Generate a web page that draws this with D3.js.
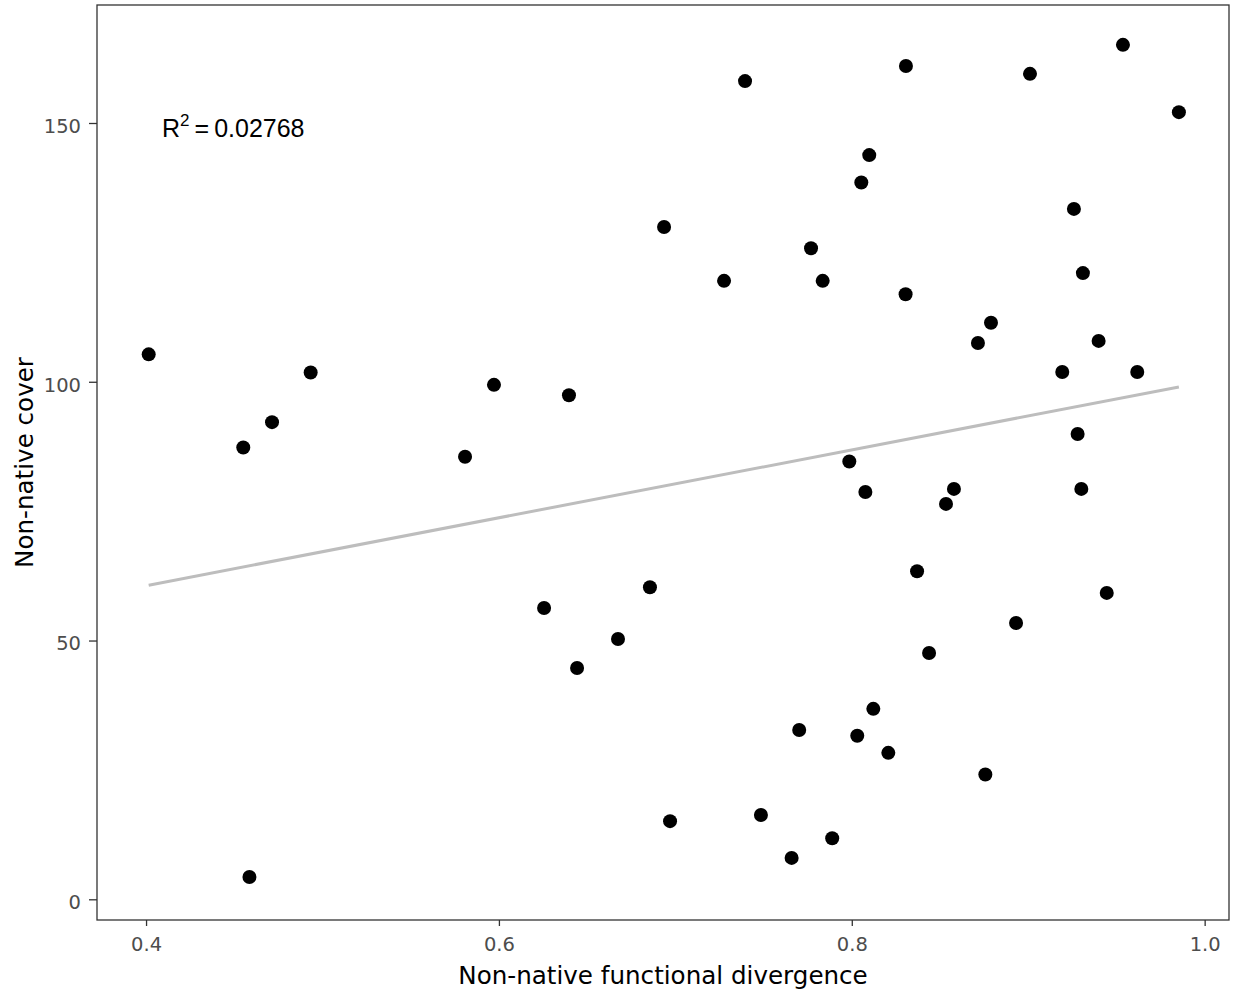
<html>
    <head>
        <style>
/*page and chart styling*/
            body{
                margin:0;
                background:#ffffff;
            }
            .tick text{
                font-family: "DejaVu Sans", sans-serif;
                font-size: 19.5px;
                fill:#4d4d4d;
            }
            .tick line{
                stroke:#333333;
                stroke-width:1.3;
            }
            .axis-title{
                font-family: "DejaVu Sans", sans-serif;
                font-size: 24.6px;
                fill:#000000;
            }
            .r2{
                font-family: "Liberation Sans Narrow", "Liberation Sans", sans-serif;
                font-size: 25px;
                fill:#000000;
            }
        </style>
    </head>
<body>
    <script src="https://cdn.jsdelivr.net/npm/d3@7"></script>
    <script>
//points: functional divergence (x) and cover (y)
      var divergence = [0.4015, 0.4551, 0.4586, 0.4714, 0.4933, 0.5808, 0.5972, 0.6256, 0.6397, 0.6443,
                        0.6675, 0.6856, 0.6936, 0.6970, 0.7276, 0.7395, 0.7485, 0.7659, 0.7702, 0.7769,
                        0.7835, 0.7889, 0.7986, 0.8031, 0.8054, 0.8077, 0.8099, 0.8122, 0.8207, 0.8307,
                        0.8305, 0.8370, 0.8438, 0.8534, 0.8579, 0.8715, 0.8757, 0.8789, 0.8931, 0.9010,
                        0.9193, 0.9259, 0.9280, 0.9301, 0.9310, 0.9399, 0.9445, 0.9537, 0.9618, 0.9854];
      var cover      = [105.3, 87.3, 4.3, 92.2, 101.8, 85.5, 99.4, 56.3, 97.4, 44.7,
                        50.3, 60.3, 129.9, 15.1, 119.5, 158.1, 16.3, 8.0, 32.7, 125.8,
                        119.5, 11.8, 84.6, 31.6, 138.5, 78.7, 143.8, 36.8, 28.3, 161.0,
                        116.9, 63.4, 47.6, 76.4, 79.3, 107.5, 24.1, 111.4, 53.4, 159.5,
                        101.9, 133.4, 89.9, 79.3, 121.0, 107.9, 59.2, 165.1, 101.9, 152.1];

//fitted line ends (lm)
      var fitX = [0.4015, 0.9854];
      var fitY = [60.7, 99.0];

//tick labels
      var xTicks = [0.4, 0.6, 0.8, 1.0];
      var yTicks = [0, 50, 100, 150];

//annotation
      var annX = 0.45;
      var annY = 150;
      var annValue = "0.02768";

      var width = 1233, height = 997;
      var margin = {top: 5, right: 4, bottom: 77, left: 97};
      var plotW = width - margin.left - margin.right;
      var plotH = height - margin.top - margin.bottom;

//scales with ggplot-like 5% padding
      var x = d3.scaleLinear().domain([0.3722, 1.0138]).range([0, plotW]);
      var y = d3.scaleLinear().domain([-4.0, 172.8]).range([plotH, 0]);

      var svg = d3.select("body").append("svg")
                  .attr("width", width)
                  .attr("height", height);

      var g = svg.append("g")
                 .attr("transform", "translate(" + margin.left + "," + margin.top + ")");

//fitted line first, points on top
      var pts = divergence.map(function(d, i){ return {x: d, y: cover[i]}; });
      var fit = fitX.map(function(d, i){ return {x: d, y: fitY[i]}; });

      var line = d3.line()
                   .x(function(d){ return x(d.x); })
                   .y(function(d){ return y(d.y); });

      g.append("path")
       .datum(fit)
       .attr("d", line)
       .attr("fill", "none")
       .attr("stroke", "#bdbdbd")
       .attr("stroke-width", 3);

      g.selectAll("circle.pt")
       .data(pts)
       .enter().append("circle")
       .attr("class", "pt")
       .attr("cx", function(d){ return x(d.x); })
       .attr("cy", function(d){ return y(d.y); })
       .attr("r", 7)
       .attr("fill", "#000000");

//axes
      var xAxis = d3.axisBottom(x).tickValues(xTicks).tickFormat(d3.format(".1f")).tickSize(6).tickPadding(11);
      var yAxis = d3.axisLeft(y).tickValues(yTicks).tickFormat(d3.format("d")).tickSize(8).tickPadding(8);

      var gx = g.append("g").attr("transform", "translate(0," + plotH + ")").call(xAxis);
      var gy = g.append("g").call(yAxis);
      gx.select(".domain").remove();
      gy.select(".domain").remove();
      gy.selectAll(".tick text").attr("dy", "0.48em");

//panel border
      g.append("rect")
       .attr("x", 0)
       .attr("y", 0)
       .attr("width", plotW)
       .attr("height", plotH)
       .attr("fill", "none")
       .attr("stroke", "#333333")
       .attr("stroke-width", 1.3);

//R squared label
      var ann = g.append("text")
                 .attr("class", "r2")
                 .attr("x", x(annX) - 1)
                 .attr("y", y(annY) + 14)
                 .attr("text-anchor", "middle");
      ann.append("tspan").text("R");
      ann.append("tspan").attr("dy", -11).attr("font-size", "17px").text("2");
      ann.append("tspan").attr("dy", 11).text("\u2009=\u20090.02768".replace("0.02768", annValue));

//axis titles
      svg.append("text")
         .attr("class", "axis-title")
         .attr("x", margin.left + plotW / 2)
         .attr("y", 984)
         .attr("text-anchor", "middle")
         .text("Non-native functional divergence");

      svg.append("text")
         .attr("class", "axis-title")
         .attr("transform", "translate(33," + (margin.top + plotH / 2) + ") rotate(-90)")
         .attr("text-anchor", "middle")
         .text("Non-native cover");
    </script>
</body>
</html>
